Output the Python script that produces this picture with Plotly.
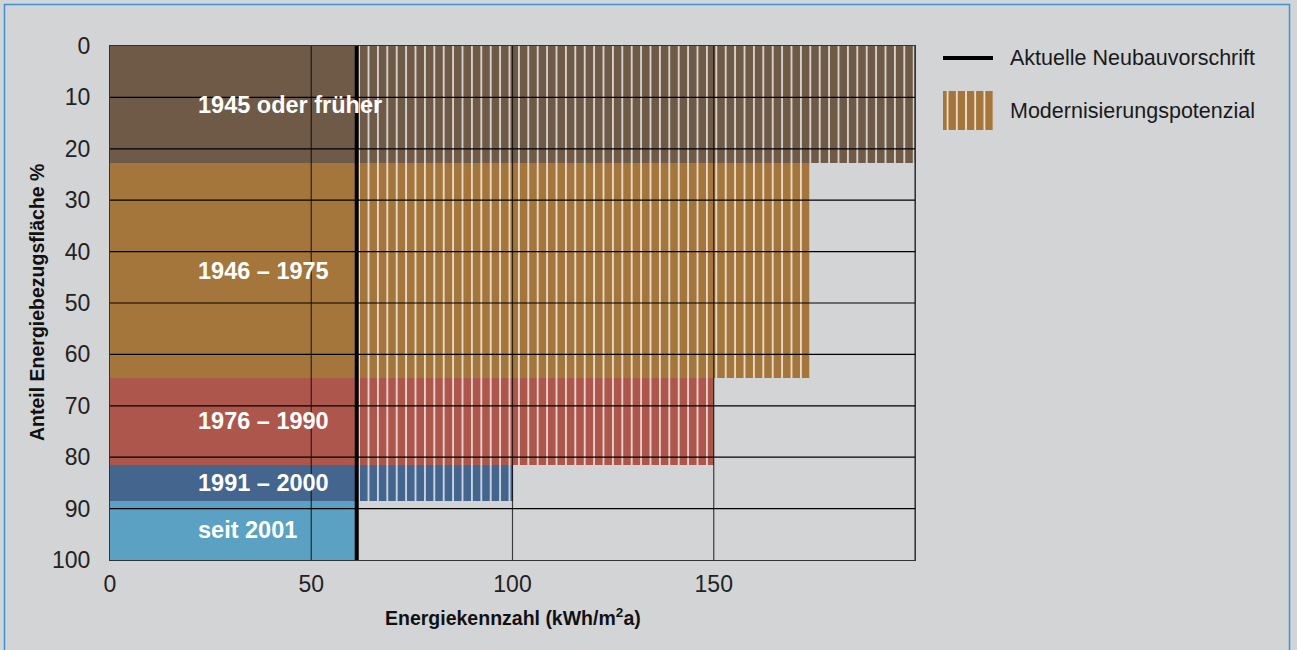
import plotly.graph_objects as go

# Building periods, their share of the heated floor area (%) and energy index (kWh/m²a)
periods = ["1945 oder früher", "1946 – 1975", "1976 – 1990", "1991 – 2000", "seit 2001"]
area_share = [22.8, 41.8, 16.9, 7.0, 11.5]
energy_index = [200, 174, 150, 100, 61.3]
period_colors = ["#6E5A47", "#A5763B", "#AD574C", "#44668E", "#5AA1C4"]

# Current new-build standard (kWh/m²a)
neubau_limit = 61.3

x_tick_vals = [0, 50, 100, 150]
y_tick_vals = [0, 10, 20, 30, 40, 50, 60, 70, 80, 90, 100]
x_grid_vals = [50, 100, 150, 200]

legend_line_label = "Aktuelle Neubauvorschrift"
legend_patch_label = "Modernisierungspotenzial"
x_title = "Energiekennzahl (kWh/m<sup>2</sup>a)"
y_title = "Anteil Energiebezugsfläche %"

# Figure geometry in pixels
W, H = 1297, 650
ML, MR, MT, MB = 110, 20, 46, 90
PLOT_R = 915
PW, PH = W - ML - MR, H - MT - MB


def px_x(px):
    return (px - ML) / PW


def px_y(py):
    return (H - MB - py) / PH


# band centres and starts along the share axis
starts, centers = [], []
acc = 0.0
for s in area_share:
    starts.append(acc)
    centers.append(acc + s / 2)
    acc += s

solid_len = [min(e, neubau_limit) for e in energy_index]
hatch_len = [max(e - neubau_limit, 0) for e in energy_index]

BG = "#D3D4D6"
FONT = "Liberation Sans, Arial, sans-serif"
hatch = dict(shape="|", fgcolor="white", fgopacity=0.9, size=9.4, solidity=0.16)

fig = go.Figure()

fig.add_trace(go.Bar(
    orientation="h", y=centers, x=solid_len, base=[0] * len(periods),
    width=area_share, marker=dict(color=period_colors, line=dict(width=0)),
    showlegend=False, hoverinfo="skip",
))
fig.add_trace(go.Bar(
    orientation="h", y=centers, x=hatch_len, base=[neubau_limit] * len(periods),
    width=area_share,
    marker=dict(color=period_colors, line=dict(width=0), pattern=hatch),
    showlegend=False, hoverinfo="skip",
))
fig.add_trace(go.Scatter(
    x=[neubau_limit, neubau_limit], y=[0, 100], mode="lines",
    line=dict(color="black", width=4), showlegend=False, hoverinfo="skip",
))

# legend swatch for the hatched potential
fig.add_trace(go.Bar(
    x=[0], y=[1], width=[1], xaxis="x2", yaxis="y2",
    marker=dict(color=period_colors[1], line=dict(width=0),
                pattern=dict(shape="|", fgcolor="white", fgopacity=0.95, size=9.2, solidity=0.16)),
    showlegend=False, hoverinfo="skip",
))

shapes = []
for yv in y_tick_vals[1:-1]:
    shapes.append(dict(type="line", xref="x", yref="y", x0=0, x1=200, y0=yv, y1=yv,
                       line=dict(color="black", width=1.2), layer="above"))
for xv in x_grid_vals:
    shapes.append(dict(type="line", xref="x", yref="y", x0=xv, x1=xv, y0=0, y1=100,
                       line=dict(color="rgba(0,0,0,0.72)", width=1.2), layer="above"))
# legend line sample
shapes.append(dict(type="line", xref="paper", yref="paper",
                   x0=px_x(943), x1=px_x(993), y0=px_y(58), y1=px_y(58),
                   line=dict(color="black", width=4)))
# blue frame around the figure
shapes.append(dict(type="rect", xref="paper", yref="paper",
                   x0=px_x(4.5), x1=px_x(1289.5), y0=px_y(4.5), y1=px_y(700),
                   line=dict(color="#3C8FD6", width=1.5), fillcolor="rgba(0,0,0,0)"))

annotations = []
for name, c in zip(periods, centers):
    annotations.append(dict(x=21.4, y=c, xref="x", yref="y", text=f"<b>{name}</b>",
                            showarrow=False, xanchor="left", yanchor="middle",
                            font=dict(family=FONT, size=23.5, color="white")))
annotations += [
    dict(x=px_x(1008), y=px_y(58), xref="paper", yref="paper", text=legend_line_label,
         showarrow=False, xanchor="left", yanchor="middle",
         font=dict(family=FONT, size=21.5, color="#1a1a1a")),
    dict(x=px_x(1008), y=px_y(111), xref="paper", yref="paper", text=legend_patch_label,
         showarrow=False, xanchor="left", yanchor="middle",
         font=dict(family=FONT, size=21.5, color="#1a1a1a")),
    dict(x=px_x(513), y=px_y(617), xref="paper", yref="paper", text=f"<b>{x_title}</b>",
         showarrow=False, xanchor="center", yanchor="middle",
         font=dict(family=FONT, size=19.5, color="#111")),
    dict(x=px_x(37), y=px_y(303), xref="paper", yref="paper", text=f"<b>{y_title}</b>",
         showarrow=False, xanchor="center", yanchor="middle", textangle=-90,
         font=dict(family=FONT, size=19.5, color="#111")),
]

fig.update_layout(
    width=W, height=H,
    margin=dict(l=ML, r=MR, t=MT, b=MB, pad=0),
    paper_bgcolor=BG, plot_bgcolor=BG,
    bargap=0, barmode="overlay", showlegend=False, hovermode=False,
    xaxis=dict(
        domain=[0, px_x(PLOT_R)], range=[0, 200], tickmode="array",
        tickvals=x_tick_vals, ticktext=[str(v) for v in x_tick_vals],
        showgrid=False, zeroline=False, ticks="", ticklabelstandoff=3,
        showline=True, mirror=True, linecolor="#333", linewidth=1,
        layer="above traces",
        tickfont=dict(family=FONT, size=23, color="#222"), fixedrange=True,
    ),
    yaxis=dict(
        range=[100, 0], tickmode="array", tickvals=y_tick_vals,
        ticktext=[str(v) for v in y_tick_vals],
        showgrid=False, zeroline=False, ticks="", ticklabelstandoff=14,
        showline=True, mirror=True, linecolor="#333", linewidth=1,
        layer="above traces",
        tickfont=dict(family=FONT, size=23, color="#222"), fixedrange=True,
    ),
    xaxis2=dict(domain=[px_x(943), px_x(993)], range=[-0.5, 0.5], visible=False,
                anchor="y2", fixedrange=True),
    yaxis2=dict(domain=[px_y(130), px_y(91)], range=[0, 1], visible=False,
                anchor="x2", fixedrange=True),
    shapes=shapes, annotations=annotations,
)

fig.write_html("out.html", config={"displayModeBar": False, "staticPlot": True})
